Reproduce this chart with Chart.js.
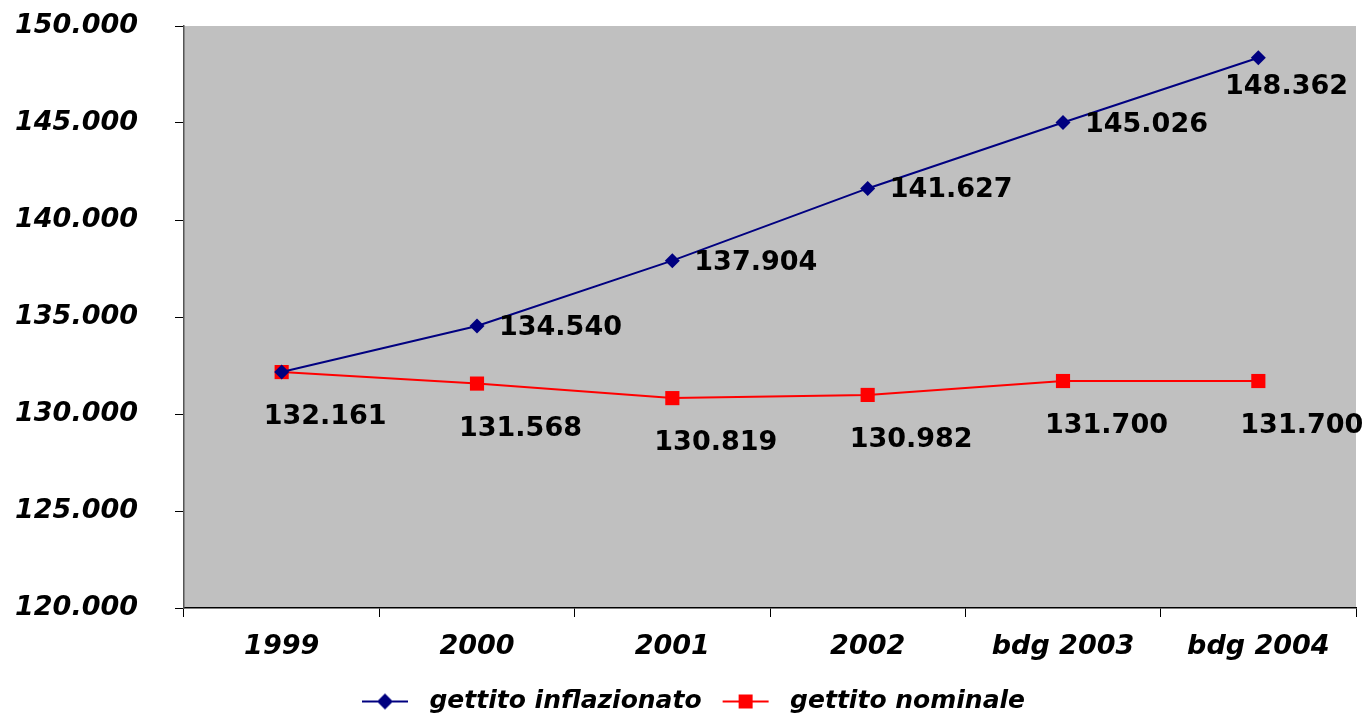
<!DOCTYPE html>
<html lang="it">
<head>
<meta charset="utf-8">
<title>gettito</title>
<script src="https://cdn.jsdelivr.net/npm/chart.js@4/dist/chart.umd.min.js"></script>
<style>
    html, body { margin: 0; padding: 0; background: #ffffff; }
    #wrap { width: 1363px; height: 715px; position: relative; }
</style>
</head>
<body>
<div id="wrap"><canvas id="gettitoChart"></canvas></div>
<script>
// dati
const categorie = ['1999', '2000', '2001', '2002', 'bdg 2003', 'bdg 2004'];
const gettitoInflazionato = [132161, 134540, 137904, 141627, 145026, 148362];
const gettitoNominale = [132161, 131568, 130819, 130982, 131700, 131700];
const asseYMin = 120000;
const asseYMax = 150000;
const asseYPasso = 5000;

const FONT = "'DejaVu Sans', Verdana, sans-serif";

// formato italiano: 132.161
function formatta(v) {
    return String(Math.round(v)).replace(/\B(?=(\d{3})+(?!\d))/g, '.');
}

// icona legenda: linea + marcatore (spazio vuoto a sinistra per distanziare le voci)
function iconaLegenda(colore, forma) {
    const c = document.createElement('canvas');
    c.width = 72;
    c.height = 18;
    const g = c.getContext('2d');
    const x0 = 17;
    g.strokeStyle = colore;
    g.lineWidth = 2;
    g.beginPath();
    g.moveTo(x0, 9);
    g.lineTo(x0 + 46, 9);
    g.stroke();
    g.fillStyle = colore;
    g.beginPath();
    if (forma === 'rombo') {
        g.moveTo(x0 + 23, 1); g.lineTo(x0 + 31, 9); g.lineTo(x0 + 23, 17); g.lineTo(x0 + 15, 9);
        g.closePath();
    } else {
        g.rect(x0 + 16, 2, 14, 14);
    }
    g.fill();
    return c;
}
const icone = [iconaLegenda('#000080', 'rombo'), iconaLegenda('#ff0000', 'quadrato')];

// sfondo grigio dell'area del grafico
const sfondoArea = {
    id: 'sfondoArea',
    beforeDraw(chart) {
        const a = chart.chartArea;
        const ctx = chart.ctx;
        ctx.save();
        ctx.fillStyle = '#c0c0c0';
        ctx.fillRect(a.left, a.top, a.right - a.left, a.bottom - a.top);
        ctx.restore();
    }
};

// etichette dei valori
const etichette = {
    id: 'etichette',
    afterDatasetsDraw(chart) {
        const ctx = chart.ctx;
        const a = chart.chartArea;
        ctx.save();
        ctx.font = 'bold 27px ' + FONT;
        ctx.fillStyle = '#000000';
        ctx.textBaseline = 'middle';
        // serie blu: a destra del punto (il primo coincide con il rosso)
        const mb = chart.getDatasetMeta(0);
        mb.data.forEach((p, i) => {
            if (i === 0) return;
            const testo = formatta(gettitoInflazionato[i]);
            const w = ctx.measureText(testo).width;
            if (p.x + 24 + w > a.right) {
                ctx.textAlign = 'right';
                ctx.fillText(testo, a.right - 8, p.y + 29);
            } else {
                ctx.textAlign = 'left';
                ctx.fillText(testo, p.x + 22, p.y + 2);
            }
        });
        // serie rossa: sotto il punto
        const mr = chart.getDatasetMeta(1);
        mr.data.forEach((p, i) => {
            const testo = formatta(gettitoNominale[i]);
            ctx.textAlign = 'left';
            ctx.fillText(testo, p.x - 18, p.y + 45);
        });
        ctx.restore();
    }
};

const ctx = document.getElementById('gettitoChart').getContext('2d');
new Chart(ctx, {
    type: 'line',
    data: {
        labels: categorie,
        datasets: [{
            label: 'gettito inflazionato',
            data: gettitoInflazionato,
            borderColor: '#000080',
            backgroundColor: '#000080',
            borderWidth: 2,
            pointStyle: 'rectRot',
            pointRadius: 7.5,
            pointBorderWidth: 0,
            tension: 0
        }, {
            label: 'gettito nominale',
            data: gettitoNominale,
            borderColor: '#ff0000',
            backgroundColor: '#ff0000',
            borderWidth: 2,
            pointStyle: 'rect',
            pointRadius: 10,
            pointBorderWidth: 0,
            tension: 0
        }]
    },
    options: {
        responsive: true,
        maintainAspectRatio: false,
        animation: false,
        layout: {
            autoPadding: false,
            padding: { left: 14, right: 7, top: 26, bottom: -9 }
        },
        plugins: {
            tooltip: { enabled: false },
            legend: {
                position: 'bottom',
                labels: {
                    usePointStyle: true,
                    pointStyleWidth: 72,
                    padding: 4,
                    color: '#000000',
                    font: { family: FONT, size: 25, style: 'italic', weight: 'bold' },
                    generateLabels(chart) {
                        const base = Chart.defaults.plugins.legend.labels.generateLabels(chart);
                        return base.map((l, i) => Object.assign(l, { pointStyle: icone[i] }));
                    }
                }
            }
        },
        scales: {
            x: {
                offset: true,
                grid: {
                    offset: true,
                    drawOnChartArea: false,
                    drawTicks: true,
                    tickLength: 9,
                    color: '#000000'
                },
                border: { color: '#000000', width: 1.5 },
                ticks: {
                    color: '#000000',
                    padding: 14,
                    maxRotation: 0,
                    font: { family: FONT, size: 27, style: 'italic', weight: 'bold' }
                },
                afterFit(scale) {
                    scale.height = 77;
                    scale.paddingLeft = 0;
                    scale.paddingRight = 0;
                }
            },
            y: {
                min: asseYMin,
                max: asseYMax,
                grid: {
                    drawOnChartArea: false,
                    drawTicks: true,
                    tickLength: 9,
                    color: '#000000'
                },
                border: { color: '#555555', width: 1.5 },
                ticks: {
                    stepSize: asseYPasso,
                    color: '#000000',
                    padding: 37,
                    font: { family: FONT, size: 27, style: 'italic', weight: 'bold' },
                    callback: (v) => formatta(v)
                },
                afterFit(scale) {
                    scale.width = 170;
                    scale.paddingTop = 0;
                    scale.paddingBottom = 0;
                }
            }
        }
    },
    plugins: [sfondoArea, etichette]
});
</script>
</body>
</html>
